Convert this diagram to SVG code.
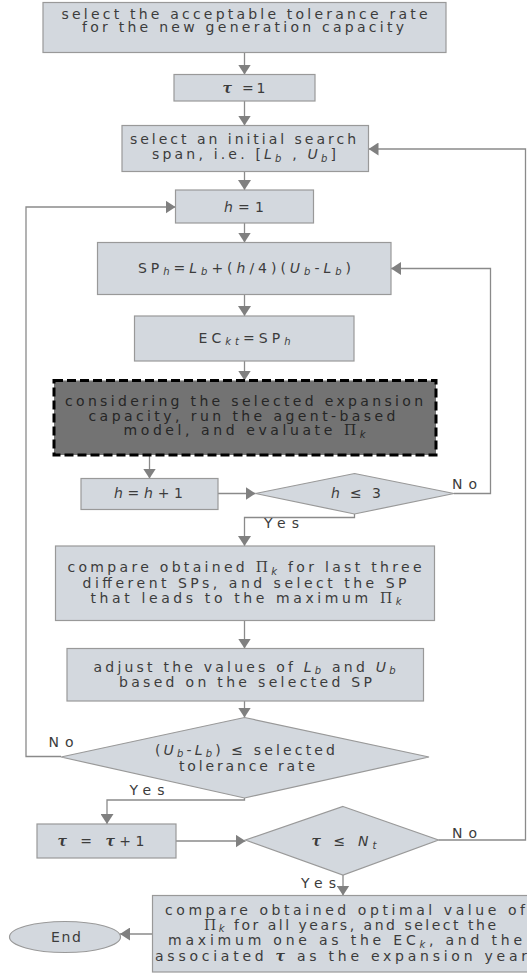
<svg xmlns="http://www.w3.org/2000/svg" width="527" height="974" viewBox="0 0 527 974">
<defs>
<style>
.box{fill:#d3d8de;stroke:#999;stroke-width:1.2}
.dark{fill:#737373;stroke:#000;stroke-width:3;stroke-dasharray:9 4}
.t{font-family:"DejaVu Sans",Verdana,sans-serif;font-size:14px;fill:#3c3c3c;text-anchor:middle}
.dt{fill:#262626}
.i{font-style:italic}
.sub{font-size:10px;font-style:italic}
.tau{font-family:"DejaVu Serif",serif;font-style:italic;font-weight:bold}
.pi{font-family:"DejaVu Serif",serif}
.c{fill:none;stroke:#8a8a8a;stroke-width:1.3}
.a{marker-end:url(#ah)}
</style>
<marker id="ah" viewBox="0 0 10 13" refX="10" refY="6.5" markerWidth="10" markerHeight="13" markerUnits="userSpaceOnUse" orient="auto">
<path d="M0,0 L10,6.5 L0,13 z" fill="#808080"/>
</marker>
</defs>
<rect width="527" height="974" fill="#fff"/>

<g id="connectors">
<path class="c a" d="M244.5,53 V74.5"/>
<path class="c a" d="M244.5,101 V125.5"/>
<path class="c a" d="M244.5,171.5 V190"/>
<path class="c a" d="M244.5,223 V242.5"/>
<path class="c a" d="M244.5,294.5 V316"/>
<path class="c a" d="M244.5,361 V380.5"/>
<path class="c a" d="M149.5,455 V478.5"/>
<path class="c a" d="M218,493.5 H255.5"/>
<path class="c a" d="M454,493.5 H490.5 V268.5 H391"/>
<path class="c a" d="M354.5,514 V517.5 H244.5 V546"/>
<path class="c a" d="M244.5,620.5 V648.5"/>
<path class="c a" d="M244.5,701 V717.5"/>
<path class="c a" d="M61,756.5 H26 V207 H175.5"/>
<path class="c a" d="M244.5,798 V800 H107 V824"/>
<path class="c a" d="M176,841 H245.5"/>
<path class="c a" d="M438.5,840 H525.5 V149 H368.5"/>
<path class="c a" d="M343,875 V895.5"/>
<path class="c a" d="M152.5,934 H120"/>
<text class="t" x="464.5" y="489" textLength="25">No</text>
<text class="t" x="281.5" y="528" textLength="35">Yes</text>
<text class="t" x="61" y="747" textLength="25">No</text>
<text class="t" x="147" y="795" textLength="35">Yes</text>
<text class="t" x="464.5" y="838" textLength="25">No</text>
<text class="t" x="318.5" y="888" textLength="35">Yes</text>
</g>

<g id="n1">
<rect class="box" x="43" y="2.5" width="403" height="50"/>
<text class="t" x="244.5" y="18.5" textLength="366">select the acceptable tolerance rate</text>
<text class="t" x="243" y="32" textLength="322">for the new generation capacity</text>
</g>

<g id="n2">
<rect class="box" x="174" y="74.5" width="141" height="26.5"/>
<text class="t" x="244" y="93" textLength="43"><tspan class="tau">τ</tspan> =1</text>
</g>

<g id="n3">
<rect class="box" x="122" y="125.5" width="246.5" height="46"/>
<text class="t" x="243" y="144" textLength="226">select an initial search</text>
<text class="t" x="244" y="159" textLength="184">span, i.e. [<tspan class="i">L</tspan><tspan class="sub" dy="2.5">b</tspan><tspan dy="-2.5"> , </tspan><tspan class="i">U</tspan><tspan class="sub" dy="2.5">b</tspan><tspan dy="-2.5">]</tspan></text>
</g>

<g id="n4">
<rect class="box" x="175.5" y="190" width="138" height="33"/>
<text class="t" x="244" y="212" textLength="40"><tspan class="i">h</tspan>=1</text>
</g>

<g id="n5">
<rect class="box" x="97.5" y="242.5" width="293.5" height="52"/>
<text class="t" x="244.5" y="272.5" textLength="213">SP<tspan class="sub" dy="2.5">h</tspan><tspan dy="-2.5">=</tspan><tspan class="i">L</tspan><tspan class="sub" dy="2.5">b</tspan><tspan dy="-2.5">+(</tspan><tspan class="i">h</tspan>/4)(<tspan class="i">U</tspan><tspan class="sub" dy="2.5">b</tspan><tspan dy="-2.5">-</tspan><tspan class="i">L</tspan><tspan class="sub" dy="2.5">b</tspan><tspan dy="-2.5">)</tspan></text>
</g>

<g id="n6">
<rect class="box" x="134.5" y="316" width="219.5" height="45"/>
<text class="t" x="244.5" y="342.5" textLength="92">EC<tspan class="sub" dy="2.5">kt</tspan><tspan dy="-2.5">=SP</tspan><tspan class="sub" dy="2.5">h</tspan></text>
</g>

<g id="n7">
<rect class="dark" x="54" y="380.5" width="382" height="74.5"/>
<text class="t dt" x="244" y="406" textLength="358">considering the selected expansion</text>
<text class="t dt" x="242" y="420.5" textLength="307">capacity, run the agent-based</text>
<text class="t dt" x="244.5" y="435" textLength="242">model, and evaluate <tspan class="pi">Π</tspan><tspan class="sub" dy="2.5">k</tspan></text>
</g>

<g id="n8">
<rect class="box" x="81" y="478.5" width="137" height="31"/>
<text class="t" x="148.5" y="497.5" textLength="69"><tspan class="i">h</tspan>=<tspan class="i">h</tspan>+1</text>
</g>

<g id="n9">
<polygon class="box" points="354.5,473.5 454,493.5 354.5,514 255.5,493.5"/>
<text class="t" x="356" y="497.5" textLength="50"><tspan class="i">h</tspan> ≤ 3</text>
</g>

<g id="n10">
<rect class="box" x="55.5" y="546" width="379" height="74.5"/>
<text class="t" x="244.5" y="572" textLength="354">compare obtained <tspan class="pi">Π</tspan><tspan class="sub" dy="2.5">k</tspan><tspan dy="-2.5"> for last three</tspan></text>
<text class="t" x="244.5" y="587.5" textLength="324">different SPs, and select the SP</text>
<text class="t" x="246" y="602.5" textLength="311">that leads to the maximum <tspan class="pi">Π</tspan><tspan class="sub" dy="2.5">k</tspan></text>
</g>

<g id="n11">
<rect class="box" x="67" y="648.5" width="356.5" height="52.5"/>
<text class="t" x="244.5" y="671.5" textLength="302">adjust the values of <tspan class="i">L</tspan><tspan class="sub" dy="2.5">b</tspan><tspan dy="-2.5"> and </tspan><tspan class="i">U</tspan><tspan class="sub" dy="2.5">b</tspan></text>
<text class="t" x="245.5" y="687" textLength="253">based on the selected SP</text>
</g>

<g id="n12">
<polygon class="box" points="244.5,717.5 429,757 244.5,798 61,757"/>
<text class="t" x="245" y="754.5" textLength="180">(<tspan class="i">U</tspan><tspan class="sub" dy="2.5">b</tspan><tspan dy="-2.5">-</tspan><tspan class="i">L</tspan><tspan class="sub" dy="2.5">b</tspan><tspan dy="-2.5">) ≤ selected</tspan></text>
<text class="t" x="247" y="770.5" textLength="136">tolerance rate</text>
</g>

<g id="n13">
<rect class="box" x="37" y="824" width="139" height="34"/>
<text class="t" x="101" y="846" textLength="87"><tspan class="tau">τ</tspan> = <tspan class="tau">τ</tspan>+1</text>
</g>

<g id="n14">
<polygon class="box" points="343,806.5 438.5,840 343,875 245.5,840"/>
<text class="t" x="344" y="846" textLength="65"><tspan class="tau">τ</tspan>  ≤ <tspan class="i">N</tspan><tspan class="sub" dy="2.5">t</tspan></text>
</g>

<g id="n15">
<rect class="box" x="152.5" y="895.5" width="380" height="76.5"/>
<text class="t" x="345" y="915" textLength="360">compare obtained optimal value of</text>
<text class="t" x="350" y="929.5" textLength="292"><tspan class="pi">Π</tspan><tspan class="sub" dy="2.5">k</tspan><tspan dy="-2.5"> for all years, and select the</tspan></text>
<text class="t" x="345" y="945" textLength="354">maximum one as the EC<tspan class="sub" dy="2.5">k</tspan><tspan dy="-2.5">, and the</tspan></text>
<text class="t" x="341" y="960.5" textLength="372">associated <tspan class="tau">τ</tspan>  as the expansion year</text>
</g>

<g id="n16">
<ellipse class="box" cx="65" cy="937" rx="55.5" ry="15.5"/>
<text class="t" x="66" y="941.5" textLength="30">End</text>
</g>
</svg>
